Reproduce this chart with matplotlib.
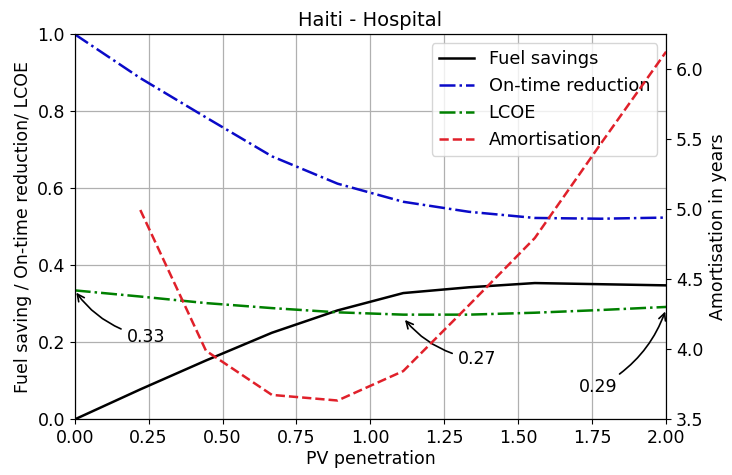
import numpy as np
import matplotlib
matplotlib.use("Agg")
import matplotlib.pyplot as plt

# PV penetration steps
pv = [0.0, 0.222, 0.444, 0.667, 0.889, 1.111, 1.333, 1.556, 1.778, 2.0]

fuel_savings = [0.0, 0.078, 0.153, 0.225, 0.283, 0.328, 0.343, 0.354, 0.351, 0.348]
ontime_reduction = [1.0, 0.886, 0.784, 0.683, 0.612, 0.565, 0.539, 0.523, 0.521, 0.524]
lcoe = [0.335, 0.319, 0.302, 0.289, 0.278, 0.272, 0.272, 0.277, 0.284, 0.292]
amortisation = [np.nan, 4.99, 3.985, 3.67, 3.63, 3.84, 4.31, 4.79, 5.46, 6.12]

plt.rcParams["font.size"] = 12.5

fig = plt.figure(figsize=(7.32, 4.75), dpi=100)
ax1 = fig.add_axes([0.102, 0.117, 0.808, 0.811])
ax2 = ax1.twinx()

l1, = ax1.plot(pv, fuel_savings, color="black", lw=1.8, label="Fuel savings")
l2, = ax1.plot(pv, ontime_reduction, color="#0a0ac8", ls="-.", lw=1.8,
               label="On-time reduction")
l3, = ax1.plot(pv, lcoe, color="green", ls="-.", lw=1.8, label="LCOE")
l4, = ax2.plot(pv, amortisation, color="#e0202a", ls="--", lw=1.8,
               label="Amortisation")

ax1.set_xlim(0, 2)
ax1.set_ylim(0, 1)
ax2.set_ylim(3.495, 6.245)
ax1.set_xticks(np.arange(0, 2.01, 0.25))
ax1.set_yticks(np.arange(0, 1.01, 0.2))
ax2.set_yticks([3.5, 4.0, 4.5, 5.0, 5.5, 6.0])
ax1.grid(True, color="#b0b0b0", lw=0.9)

ax1.set_xlabel("PV penetration", labelpad=2)
ax1.set_ylabel("Fuel saving / On-time reduction/ LCOE")
ax2.set_ylabel("Amortisation in years")
ax1.set_title("Haiti - Hospital", fontsize=14)

arrow = dict(arrowstyle="->", color="black", lw=1.2)
ax1.annotate("0.33", xy=(pv[0], lcoe[0]), xytext=(0.24, 0.215),
             ha="center", va="center",
             arrowprops=dict(connectionstyle="arc3,rad=-0.2", **arrow))
ax1.annotate("0.27", xy=(pv[5], lcoe[5] - 0.008), xytext=(1.36, 0.156),
             ha="center", va="center",
             arrowprops=dict(connectionstyle="arc3,rad=-0.2", **arrow))
ax1.annotate("0.29", xy=(pv[9], lcoe[9] - 0.005), xytext=(1.77, 0.083),
             ha="center", va="center",
             arrowprops=dict(connectionstyle="arc3,rad=0.2", **arrow))

ax1.legend(handles=[l1, l2, l3, l4], loc="upper right", fontsize=12.8)

fig.savefig("out.png", dpi=100)
